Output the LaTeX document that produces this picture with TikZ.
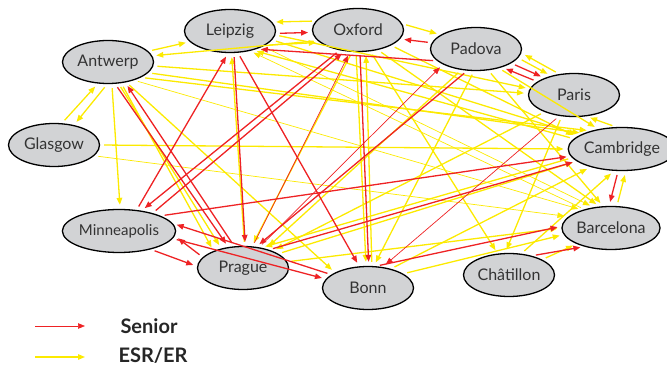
\documentclass[tikz,border=0pt]{standalone}
\usepackage{fontspec}
\setmainfont{Lato}
\usetikzlibrary{arrows.meta,shapes.geometric}
\definecolor{senred}{RGB}{238,34,36}
\definecolor{esryellow}{RGB}{252,234,0}
\definecolor{cityfill}{RGB}{210,211,213}
\begin{document}
\begin{tikzpicture}[x=1pt, y=-1pt,
    city/.style ={ellipse, draw=black, line width=1.3pt, fill=cityfill,
      minimum width=91pt, minimum height=43pt, inner sep=0pt,
      text=black!80, font=\fontsize{16}{18}\selectfont},
    senior/.style ={draw=senred, line width=1.3pt, -{Triangle[length=7pt,width=5.5pt]},
      shorten >=4pt, shorten <=4pt},
    esr/.style ={draw=esryellow, line width=1.3pt, -{Triangle[length=7pt,width=5.5pt]},
      shorten >=4pt, shorten <=4pt},
    light/.style ={line width=0.7pt}]
   \useasboundingbox (0,0) rectangle (667,366);
   \node[city] (Ant) at (108,62)  {Antwerp};
   \node[city] (Lei) at (230,31)  {Leipzig};
   \node[city] (Oxf) at (358,30)  {Oxford};
   \node[city] (Pad) at (476,49)  {Padova};
   \node[city] (Par) at (574,95)  {Paris};
   \node[city] (Cam) at (622,149) {Cambridge};
   \node[city] (Bar) at (611,228) {Barcelona};
   \node[city] (Cha) at (509,275) {Châtillon};
   \node[city] (Bon) at (368,288) {Bonn};
   \node[city] (Pra) at (243,268) {Prague};
   \node[city, font=\fontsize{15}{18}\selectfont] (Min) at (119,231) {Minneapolis};
   \node[city] (Gla) at (54,145)  {Glasgow};
   % ESR/ER
   \draw[esr] (Ant.15) to (Lei.195);
   \draw[esr] (Oxf.195) to (Ant.8);
   \draw[esr] (Oxf.168) to (Lei.12);
   \draw[esr] (Lei.-22) to (Oxf.-162);
   \draw[esr] (Oxf.8) to (Pad.158);
   \draw[esr] (Par.125) to (Pad.-5);
   \draw[esr] (Pad.-12) to (Par.140);
   \draw[esr] (Cam.105) to (Par.-60);
   \draw[esr] (Bar.75) to (Cam.-80);
   \draw[esr] (Gla.70) to (Ant.-115);
   \draw[esr] (Ant.-92) to (Gla.45);
   \draw[esr] (Ant.-80) to (Min.87);
   \draw[esr] (Gla.0) to (Cam.180);
   \draw[esr, light] (Gla.-15) to (Bar.165);
   \draw[esr] (Ant.-5) to (Par.178);
   \draw[esr] (Ant.-15) to (Cam.158);
   \draw[esr] (Ant.-25) to (Cam.150);
   \draw[esr, light] (Ant.-35) to (Bar.148);
   \draw[esr] (Ant.-58) to (Pra.150);
   \draw[esr] (Ant.-64) to (Pra.138);
   \draw[esr] (Ant.-48) to (Bon.155);
   \draw[esr] (Pra.86) to (Lei.-86);
   \draw[esr] (Cam.168) to (Lei.-40);
   \draw[esr, light] (Bar.145) to (Lei.-45);
   \draw[esr] (Bon.80) to (Oxf.-70);
   \draw[esr] (Oxf.-60) to (Cha.118);
   \draw[esr] (Oxf.-45) to (Bar.118);
   \draw[esr] (Oxf.-25) to (Cam.165);
   \draw[esr] (Oxf.-105) to (Pra.68);
   \draw[esr] (Oxf.-95) to (Bon.95);
   \draw[esr] (Lei.-12) to (Cam.162);
   \draw[esr] (Lei.-5) to (Par.172);
   \draw[esr] (Cha.60) to (Cam.-110);
   \draw[esr] (Cha.25) to (Bar.-155);
   \draw[esr] (Bon.22) to (Bar.-172);
   \draw[esr] (Bon.40) to (Cam.-150);
   \draw[esr] (Pra.22) to (Cam.-165);
   \draw[esr] (Pra.8) to (Bar.180);
   \draw[esr] (Pad.-125) to (Pra.40);
   \draw[esr] (Par.-150) to (Pra.30);
   \draw[esr] (Cam.-170) to (Pra.48);
   \draw[esr] (Pad.-95) to (Bon.75);
   \draw[esr] (Pad.-40) to (Cam.140);
   \draw[esr] (Pad.-60) to (Bar.110);
   \draw[esr, light] (Lei.-25) to (Bar.130);
   \draw[esr] (Par.-120) to (Cha.100);
   % Senior
   \draw[senior] (Lei.-3) to (Oxf.183);
   \draw[senior] (Pad.197) to (Lei.-34);
   \draw[senior] (Pad.172) to (Oxf.-12);
   \draw[senior] (Par.160) to (Pad.-35);
   \draw[senior] (Pad.-22) to (Par.150);
   \draw[senior] (Cam.-100) to (Bar.95);
   \draw[senior] (Cha.40) to (Bar.-145);
   \draw[senior] (Bon.70) to (Bar.178);
   \draw[senior, light] (Par.-125) to (Bon.55);
   \draw[senior] (Oxf.-85) to (Bon.88);
   \draw[senior] (Lei.-70) to (Bon.112);
   \draw[senior] (Lei.-80) to (Pra.84);
   \draw[senior] (Pad.-112) to (Pra.58);
   \draw[senior, light] (Pra.52) to (Pad.205);
   \draw[senior] (Min.28) to (Oxf.238);
   \draw[senior, light] (Pra.66) to (Oxf.250);
   \draw[senior] (Min.50) to (Lei.-95);
   \draw[senior] (Oxf.228) to (Min.42);
   \draw[senior] (Pra.112) to (Ant.-50);
   \draw[senior] (Ant.-72) to (Pra.125);
   \draw[senior] (Bon.160) to (Min.8);
   \draw[senior] (Pra.165) to (Min.-5);
   \draw[senior] (Min.-30) to (Pra.178);
   \draw[senior] (Min.-8) to (Bon.168);
   \draw[senior] (Min.20) to (Cam.188);
   \draw[senior] (Pra.35) to (Cam.195);
   % legend
   \coordinate (snA) at (35,326);
   \coordinate (snB) at (85,326);
   \coordinate (esA) at (35,357);
   \coordinate (esB) at (85,357);
   \draw[senior, light, shorten >=0pt, shorten <=0pt] (snA) to (snB);
   \draw[esr, shorten >=0pt, shorten <=0pt] (esA) to (esB);
   \node[anchor=west, font=\fontsize{20}{22}\selectfont\bfseries, text=black!85] (snT) at (117,326) {Senior};
   \node[anchor=west, font=\fontsize{20}{22}\selectfont\bfseries, text=black!85] (esT) at (115,356) {ESR/ER};
\end{tikzpicture}
\end{document}
